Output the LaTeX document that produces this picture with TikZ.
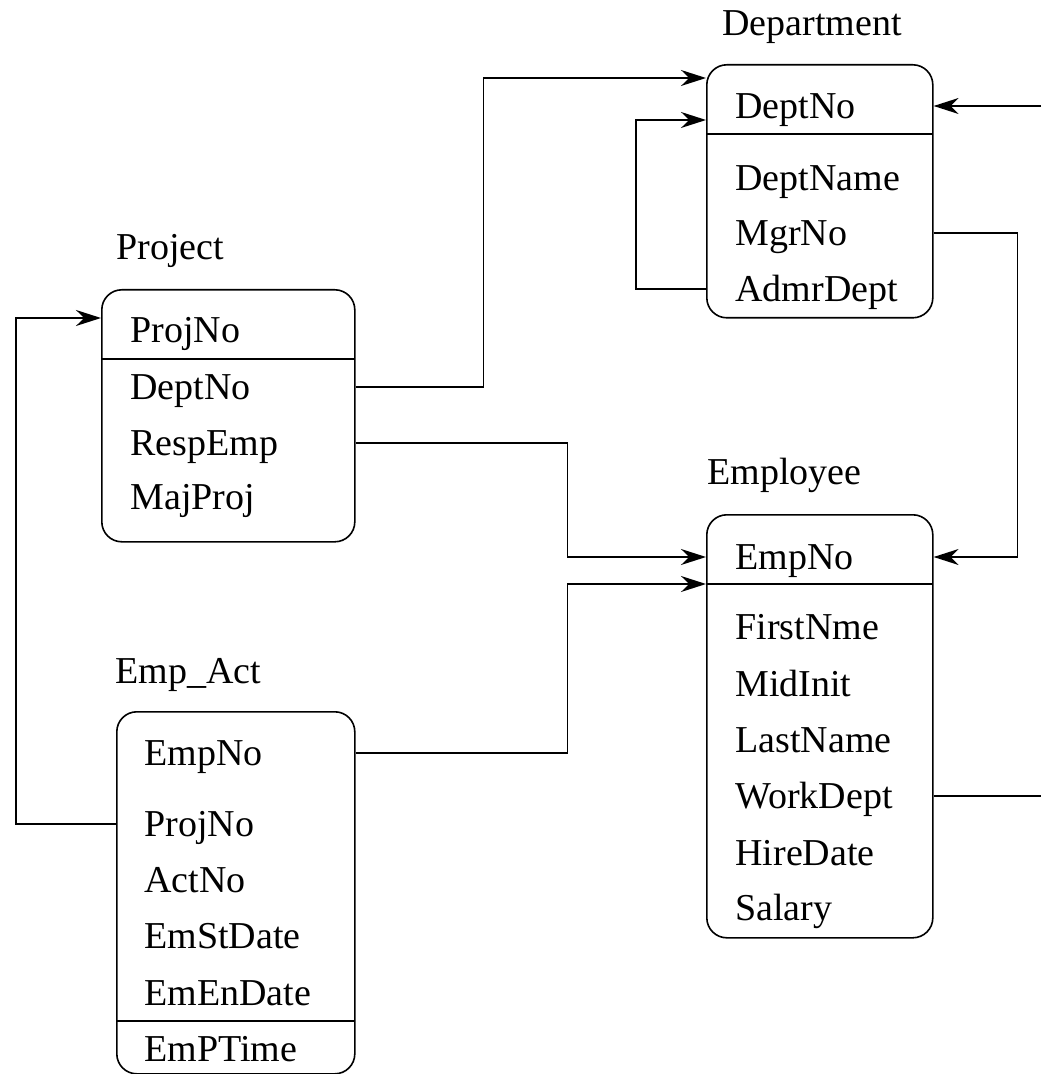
\documentclass[tikz,border=0pt]{standalone}
\usepackage{fontspec}
\setmainfont{Liberation Serif}
\usepackage{tikz}
\usetikzlibrary{arrows.meta}
\newcommand*{\Arrondi}{10pt}
\newcommand*{\Taille}{19}
\tikzset{
	tbl/.style={draw,line width=0.8pt,rounded corners=\Arrondi,inner sep=0pt,anchor=north west},
	field/.style={inner sep=0pt,anchor=west,text height=12.5pt,text depth=0pt,
		font=\fontsize{\Taille}{23}\selectfont},
	title/.style={inner sep=0pt,anchor=base west,font=\fontsize{\Taille}{23}\selectfont},
	sep/.style={line width=0.8pt},
	fk/.style={line width=0.8pt,-{Stealth[length=12.5pt,width=8pt]}}
}
\begin{document}
\begin{tikzpicture}[x=0.5pt,y=-0.5pt]
	\useasboundingbox (0,0) rectangle (1041,1074);

	% Department
	\node[title] (tDept) at (722,36) {Department};
	\node[tbl,minimum width=113pt,minimum height=126.5pt] (dept) at (706,64) {};
	\draw[sep] (706,134) -- (932,134);
	\node[field] (dDeptNo) at (735,106) {DeptNo};
	\node[field] (dDeptName) at (735,178) {DeptName};
	\node[field] (dMgrNo) at (735,233) {MgrNo};
	\node[field] (dAdmrDept) at (735,289) {AdmrDept};

	% Project
	\node[title] (tProj) at (116,260) {Project};
	\node[tbl,minimum width=126.5pt,minimum height=126pt] (proj) at (101,289) {};
	\draw[sep] (101,359) -- (354,359);
	\node[field] (pProjNo) at (130,330) {ProjNo};
	\node[field] (pDeptNo) at (130,387) {DeptNo};
	\node[field] (pRespEmp) at (130,443) {RespEmp};
	\node[field] (pMajProj) at (130,497) {MajProj};

	% Employee
	\node[title] (tEmp) at (707,484) {Employee};
	\node[tbl,minimum width=113pt,minimum height=211.5pt] (emp) at (706,514) {};
	\draw[sep] (706,584) -- (932,584);
	\node[field] (eEmpNo) at (735,557) {EmpNo};
	\node[field] (eFirstNme) at (735,627) {FirstNme};
	\node[field] (eMidInit) at (735,684) {MidInit};
	\node[field] (eLastName) at (735,740) {LastName};
	\node[field] (eWorkDept) at (735,796) {WorkDept};
	\node[field] (eHireDate) at (735,853) {HireDate};
	\node[field] (eSalary) at (735,908) {Salary};

	% Emp_Act
	\node[title] (tAct) at (115,683) {Emp\_Act};
	\node[tbl,minimum width=119pt,minimum height=181pt] (act) at (116,711) {};
	\draw[sep] (116,1021) -- (354,1021);
	\node[field] (aEmpNo) at (144,753) {EmpNo};
	\node[field] (aProjNo) at (144,824) {ProjNo};
	\node[field] (aActNo) at (144,880) {ActNo};
	\node[field] (aEmStDate) at (144,936) {EmStDate};
	\node[field] (aEmEnDate) at (144,993) {EmEnDate};
	\node[field] (aEmPTime) at (144,1049) {EmPTime};

	% points d'entree des fleches
	\coordinate (d-in1) at (706,78);
	\coordinate (d-in2) at (706,120);
	\coordinate (p-in) at (101,318);
	\coordinate (e-in2) at (706,584);
	\coordinate (d-out) at (1041,106);
	\coordinate (e-out) at (1041,796);

	% liens
	\draw[fk] (pDeptNo -| proj.east) -- ++(128,0) |- (d-in1);
	\draw[fk] (dAdmrDept -| dept.west) -- ++(-70,0) |- (d-in2);
	\draw[fk] (d-out) -- (dDeptNo -| dept.east);
	\draw[fk] (dMgrNo -| dept.east) -- ++(84,0) |- (eEmpNo -| emp.east);
	\draw[fk] (pRespEmp -| proj.east) -- ++(212,0) |- (eEmpNo -| emp.west);
	\draw[fk] (aEmpNo -| act.east) -- ++(212,0) |- (e-in2);
	\draw[fk] (aProjNo -| act.west) -- ++(-100,0) |- (p-in);
	\draw[line width=0.8pt] (eWorkDept -| emp.east) -- (e-out);
\end{tikzpicture}
\end{document}
